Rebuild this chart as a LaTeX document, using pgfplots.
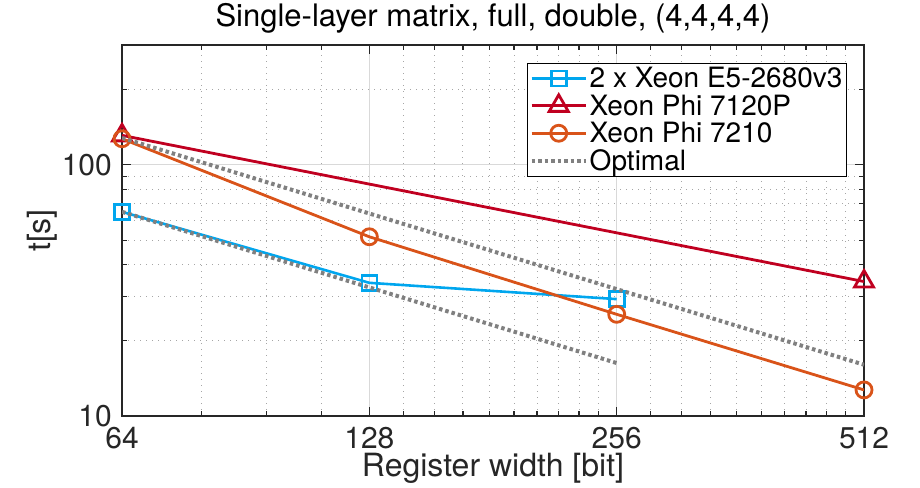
\documentclass[border=0pt]{standalone}
\usepackage{fontspec}
\setmainfont{TeX Gyre Heros}
\usepackage{pgfplots}
\pgfplotsset{compat=1.18}
\definecolor{cblue}{RGB}{0,166,238}
\definecolor{cred}{RGB}{192,0,32}
\definecolor{corange}{RGB}{217,83,25}
\definecolor{cgray}{RGB}{128,128,128}
\definecolor{caxis}{RGB}{38,38,38}
\begin{document}
\begin{tikzpicture}
\begin{axis}[
 scale only axis, width=742pt, height=371pt,
 xmode=log, ymode=log,
 xmin=64, xmax=512, ymin=10, ymax=300,
 xtick={64,128,256,512}, xticklabels={64,128,256,512},
 ytick={10,100}, yticklabels={10,100},
 minor xtick={80,96,112,140.8,153.6,166.4,179.2,192,204.8,217.6,230.4,243.2,281.6,307.2,332.8,358.4,384,409.6,435.2,460.8,486.4},
 minor ytick={20,30,40,50,60,70,80,90,200,300},
 grid=both,
 major grid style={draw=black!15, line width=1pt},
 minor grid style={draw=black!35, line width=1pt, dash pattern=on 1pt off 5pt},
 tick align=inside,
 major tick length=9pt, minor tick length=5pt,
 every tick/.style={caxis, line width=1.3pt},
 axis line style={caxis, line width=1.3pt},
 ticklabel style={font=\fontsize{30}{30}\selectfont, text=caxis},
 xticklabel style={anchor=base, yshift=-33pt},
 yticklabel style={anchor=east, inner sep=0pt, xshift=-10pt},
 title={Single-layer matrix, full, double, (4,4,4,4)},
 title style={font=\fontsize{31}{31}\selectfont, at={(axis description cs:0.5,1.035)}, anchor=base, inner sep=0pt},
 xlabel={Register width [bit]},
 xlabel style={font=\fontsize{32}{32}\selectfont, text=caxis, at={(axis description cs:0.5,-0.162)}, anchor=base, inner sep=0pt},
 ylabel={t[s]},
 ylabel style={font=\fontsize{32}{32}\selectfont, text=caxis, at={(axis description cs:-0.1078,0.5)}, anchor=center},
 clip mode=individual,
 legend style={at={(0.977,0.9515)}, anchor=north east, draw=black, line width=1pt, fill=white,
   font=\fontsize{28}{28}\selectfont, inner sep=2pt, row sep=1.5pt, cells={anchor=west}},
 legend image code/.code={\draw[mark repeat=2,mark phase=2] plot coordinates {(0pt,0pt) (27pt,0pt) (54pt,0pt)};},
]
\coordinate (sw) at (rel axis cs:0,0);
\addplot[cblue, line width=2.6pt, mark=square, mark size=7.5pt, mark options={fill=white, solid}]
  coordinates {(64,65) (128,33.9) (256,29.2)};
\addlegendentry{2 x Xeon E5-2680v3}
\addplot[cred, line width=2.8pt, mark=triangle, mark size=11pt, mark options={fill=white, solid}]
  coordinates {(64,131) (512,34.3)};
\addlegendentry{Xeon Phi 7120P}
\addplot[corange, line width=2.8pt, mark=o, mark size=8pt, mark options={fill=white, solid}]
  coordinates {(64,127) (128,51.7) (256,25.4) (512,12.7)};
\addlegendentry{Xeon Phi 7210}
\addplot[cgray, line width=4pt, dash pattern=on 3.5pt off 3pt]
  coordinates {(64,128) (512,16)};
\addlegendentry{Optimal}
\addplot[cgray, line width=4pt, dash pattern=on 3.5pt off 3pt, forget plot]
  coordinates {(64,65) (256,16.25)};
\end{axis}
\pgfresetboundingbox
\path (sw) ++(-122pt,-71pt) rectangle ++(920pt,487pt);
\end{tikzpicture}
\end{document}
